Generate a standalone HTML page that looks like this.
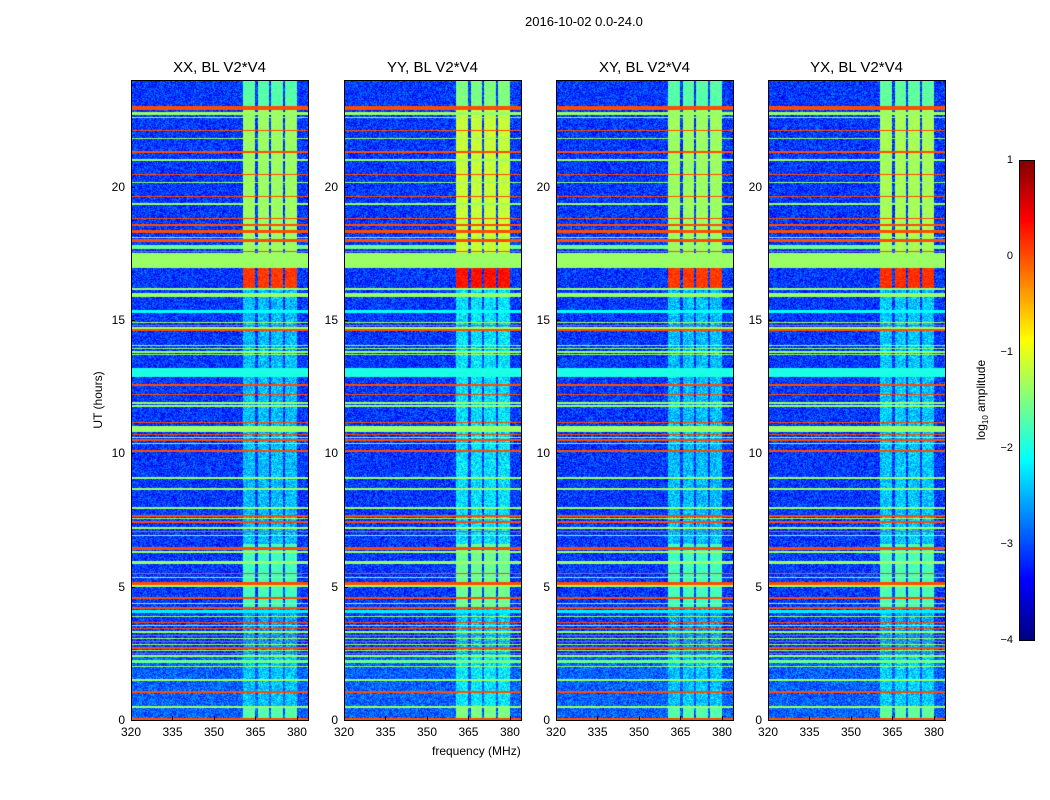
<!DOCTYPE html>
<html><head><meta charset="utf-8"><style>
body{margin:0;background:#fff;font-family:"Liberation Sans",sans-serif;}
#root{position:relative;width:1050px;height:800px;background:#fff;overflow:hidden}
.t{position:absolute;font-size:12px;color:#000;white-space:nowrap}
.ttl{position:absolute;font-size:15px;color:#000;white-space:nowrap;transform:translateX(-50%)}
canvas{position:absolute}
.frame{position:absolute;border:1px solid #000;box-sizing:border-box}
</style></head><body>
<div id="root">
<div class="t" style="left:525px;top:14px;font-size:13px">2016-10-02 0.0-24.0</div>
<div class="t" style="left:432px;top:744px;font-size:12px">frequency (MHz)</div>
<div class="t" style="left:98px;top:400px;transform:translate(-50%,-50%) rotate(-90deg)">UT (hours)</div>
<div class="t" style="left:982px;top:400px;transform:translate(-50%,-50%) rotate(-90deg)">log<sub style="font-size:8px">10</sub> amplitude</div>
<canvas id="cb" width="15" height="480" style="left:1019px;top:160px"></canvas>
<div class="frame" style="left:1019px;top:160px;width:16px;height:481px"></div>
</div>
<script>
// ---- data ----
const panelTitles=["XX, BL V2*V4","YY, BL V2*V4","XY, BL V2*V4","YX, BL V2*V4"];
const panelLeft=[131,344,556,768];
const xTicks=[320,335,350,365,380];
const yTicks=[0,5,10,15,20];
const cbTicks=[1,0,-1,-2,-3,-4];
// horizontal RFI bands: center hour, duration (h), log10 amplitude
const bandHour=[22.95,22.75,22.6,22.1,21.8,21.3,21.0,20.46,20.16,19.62,19.36,18.8,18.56,18.33,18.1,17.97,17.72,17.56,17.23,16.16,15.97,15.9,15.32,14.9,14.8,14.7,14.62,14.05,13.93,13.8,13.7,13.03,12.56,12.2,11.9,11.88,11.77,11.15,10.91,10.7,10.6,10.5,10.38,10.1,9.07,8.66,7.95,7.65,7.55,7.42,7.2,7.07,6.93,6.42,6.3,5.9,5.5,5.35,5.12,5.03,4.57,4.38,4.2,4.06,3.87,3.65,3.55,3.42,3.3,3.18,3.05,2.95,2.82,2.7,2.6,2.5,2.4,2.2,2.0,1.5,1.05,0.49,0.05];
const bandDur=[0.13,0.1,0.05,0.05,0.05,0.05,0.05,0.05,0.05,0.05,0.09,0.05,0.1,0.1,0.05,0.1,0.15,0.05,0.55,0.05,0.05,0.05,0.12,0.05,0.05,0.05,0.05,0.05,0.05,0.05,0.05,0.34,0.05,0.05,0.05,0.05,0.05,0.05,0.22,0.05,0.05,0.05,0.05,0.08,0.05,0.05,0.09,0.05,0.05,0.05,0.05,0.05,0.05,0.12,0.08,0.12,0.05,0.05,0.1,0.05,0.05,0.05,0.05,0.12,0.05,0.05,0.05,0.05,0.05,0.05,0.05,0.05,0.05,0.05,0.05,0.05,0.05,0.12,0.05,0.05,0.05,0.05,0.08];
const bandVal=[0.0,-1.37,-1.37,0.0,-1.37,0.0,-1.37,0.0,-1.37,0.0,-1.37,0.0,0.0,0.0,-1.37,0.0,-1.6,0.0,-1.37,-1.37,-1.37,-1.37,-2.1,-1.37,0.0,-1.37,0.0,-1.37,-1.37,-1.37,-1.37,-2.0,0.0,0.0,-1.37,-1.37,-1.37,0.0,-1.37,0.0,-1.37,0.0,-1.37,0.0,-1.37,-1.37,-1.37,0.0,-1.37,0.0,-1.37,0.0,-1.37,0.0,-1.37,-1.37,0.0,-1.37,0.0,-1.37,0.0,-1.37,0.0,-2.2,-1.37,0.0,-1.37,0.0,-1.37,0.0,-1.37,0.0,-1.37,0.0,-1.37,0.0,-1.37,-1.6,-1.37,-1.37,0.0,-1.37,0.0];
// vertical RFI columns (MHz)
const colStart=[360.4,365.8,370.5,375.6];
const colEnd=[364.8,369.8,374.9,379.9];
// column amplitude vs time segments
const segStart=[0,0.5,2.5,4.2,6.6,16.2,17.0,17.5,23.0];
const segEnd=[0.5,2.5,4.2,6.6,16.2,17.0,17.5,23.0,24.0];
const segVal=[-1.7,-2.4,-2.6,-1.8,-2.45,0.1,-1.37,-1.35,-1.7];
// per-panel column boost
const panelBoost=[0,0.2,0,0.05];
</script>
<script>
const root=document.getElementById('root');
const F0=320,F1=384,PW=177,PT=80,PH=640;
function jet(v){let x=(v+4)/5;x=Math.max(0,Math.min(1,x));
 const c=t=>Math.round(255*Math.max(0,Math.min(1,1.5-Math.abs(t))));
 return [c(4*x-3),c(4*x-2),c(4*x-1)];}
function hash(a,b,c){let h=(a*374761393+b*668265263+c*2147483647)|0;h=(h^(h>>>13))*1274126177|0;return ((h^(h>>>16))>>>0)/4294967296;}
const yOf=h=>PT+PH-h*PH/24;
panelTitles.forEach((title,p)=>{
 const L=panelLeft[p];
 const cv=document.createElement('canvas');cv.width=PW;cv.height=PH;
 cv.style.left=L+'px';cv.style.top=PT+'px';
 
 
 root.appendChild(cv);
 const ctx=cv.getContext('2d');const img=ctx.createImageData(PW,PH);
 for(let y=0;y<PH;y++){
  const h=(PH-y-0.5)*24/PH;
  let seg=-3;for(let s=0;s<segStart.length;s++)if(h>=segStart[s]&&h<segEnd[s])seg=segVal[s]+panelBoost[p];
  let band=null;for(let b=0;b<bandHour.length;b++)if(Math.abs(h-bandHour[b])<=bandDur[b]/2+0.0001){band=bandVal[b];break;}
  for(let x=0;x<PW;x++){
   const f=F0+(x+0.5)*(F1-F0)/PW;
   let v=-3.1+(hash(x,y,p)-0.5)*0.8;
   if(h<2.4)v+=0.2;
   let inCol=false;for(let c=0;c<colStart.length;c++)if(f>=colStart[c]&&f<colEnd[c])inCol=true;
   if(inCol)v=seg+(hash(y,x,p+7)-0.5)*(seg<-2?0.8:0.35);
   if(band!==null){v=band;if(band<-1.5&&inCol)v=Math.max(band,seg);}
   const [r,g,bb]=jet(v);const i=(y*PW+x)*4;
   img.data[i]=r;img.data[i+1]=g;img.data[i+2]=bb;img.data[i+3]=255;}
 }
 ctx.putImageData(img,0,0);
 const fr=document.createElement('div');fr.className='frame';
 fr.style.cssText=`left:${L}px;top:${PT}px;width:${PW+1}px;height:${PH+1}px`;
 
 
 root.appendChild(fr);
 const tt=document.createElement('div');tt.className='ttl';tt.textContent=title;
 tt.style.left=(L+PW/2)+'px';tt.style.top='59px';
 
 
 root.appendChild(tt);
 xTicks.forEach(v=>{const x=L+(v-F0)*PW/(F1-F0);
  const d=document.createElement('div');d.className='t';d.textContent=v;
  d.style.left=(x-10)+'px';d.style.top='725px';
  
  
  root.appendChild(d);
  const m=document.createElement('div');m.style.cssText=`position:absolute;left:${x}px;top:${PT+PH-4}px;width:1px;height:4px;background:#000`;
  
  
  root.appendChild(m);});
 yTicks.forEach(v=>{const y=yOf(v);
  const d=document.createElement('div');d.className='t';d.textContent=v;
  d.style.left=(L-6)+'px';d.style.top=(y-7)+'px';d.style.transform='translateX(-100%)';
  
  
  root.appendChild(d);
  const m=document.createElement('div');m.style.cssText=`position:absolute;left:${L}px;top:${y}px;width:4px;height:1px;background:#000`;
  
  
  root.appendChild(m);});
});
// colorbar
const cb=document.getElementById('cb').getContext('2d');
for(let y=0;y<480;y++){const v=1-(y+0.5)*5/480;const [r,g,b]=jet(v);cb.fillStyle=`rgb(${r},${g},${b})`;cb.fillRect(0,y,15,1);}
cbTicks.forEach(v=>{const y=160+(1-v)*480/5;
 const d=document.createElement('div');d.className='t';d.style.fontSize='11px';
 d.textContent=(v<0?'\u2212'+(-v):''+v);d.style.left='1013px';d.style.top=(y-6)+'px';d.style.transform='translateX(-100%)';
 
 
 root.appendChild(d);});
</script>
</body></html>
